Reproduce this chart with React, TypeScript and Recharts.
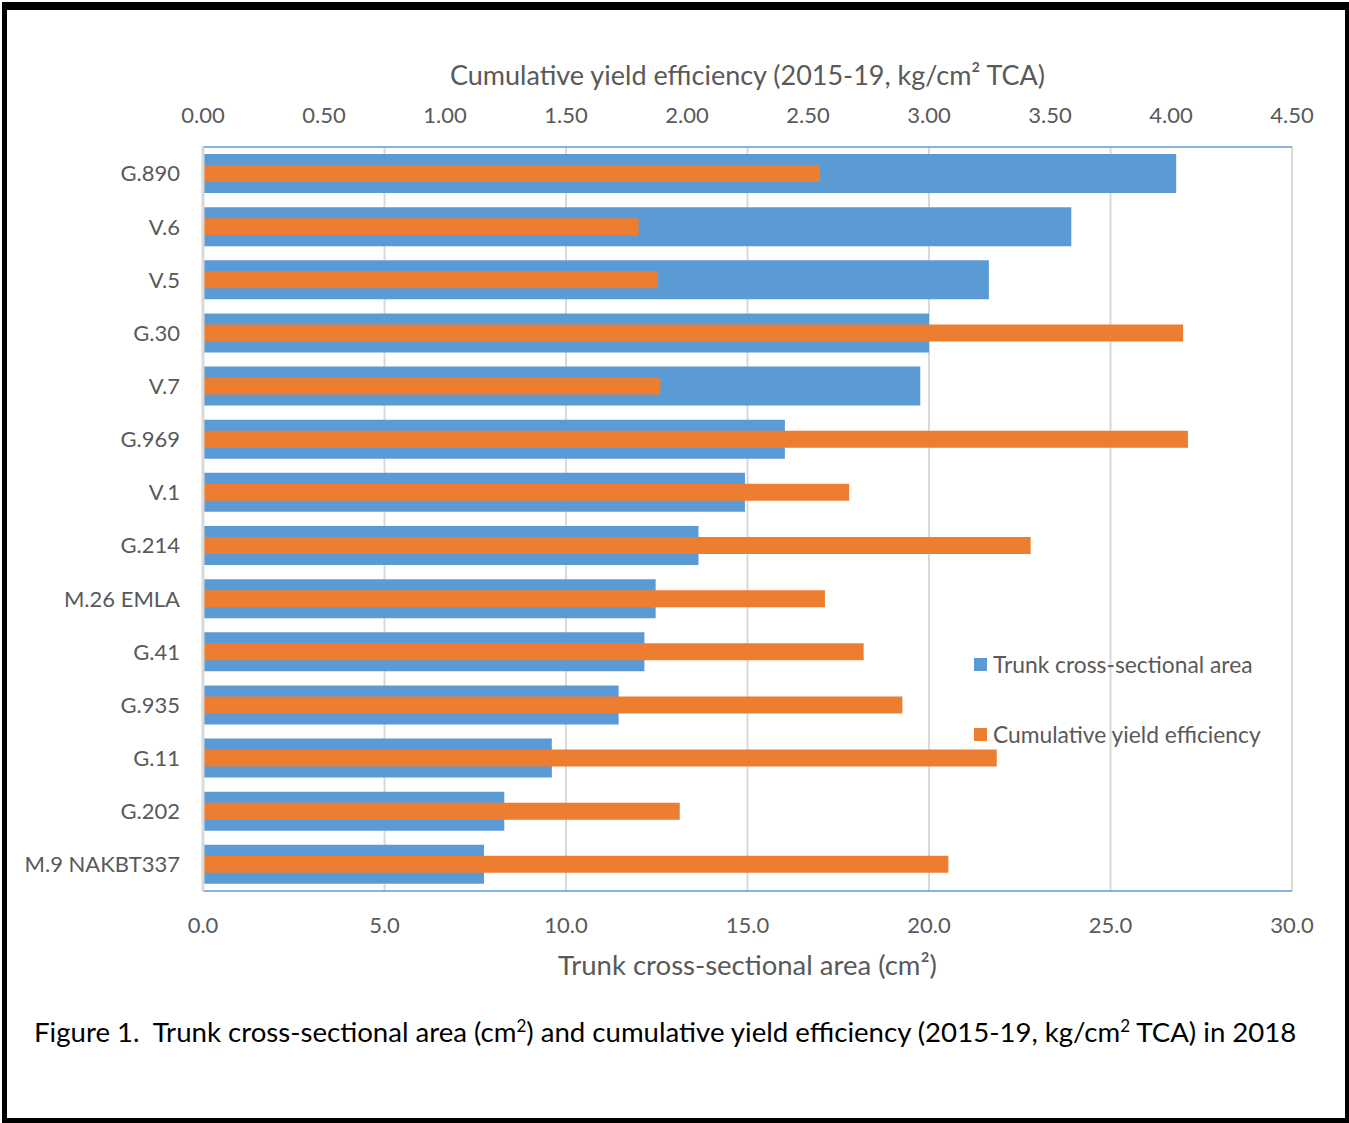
import React from 'react';
import { BarChart, Bar, XAxis, YAxis, CartesianGrid, Legend } from 'recharts';

const categories = ['G.890', 'V.6', 'V.5', 'G.30', 'V.7', 'G.969', 'V.1', 'G.214', 'M.26 EMLA', 'G.41', 'G.935', 'G.11', 'G.202', 'M.9 NAKBT337'];
const trunkArea = [26.81, 23.92, 21.65, 20.0, 19.76, 16.03, 14.93, 13.65, 12.47, 12.16, 11.45, 9.61, 8.3, 7.74];
const yieldEfficiency = [2.55, 1.8, 1.88, 4.05, 1.89, 4.07, 2.67, 3.42, 2.57, 2.73, 2.89, 3.28, 1.97, 3.08];
const topTicks = [0, 0.5, 1, 1.5, 2, 2.5, 3, 3.5, 4, 4.5];
const bottomTicks = [0, 5, 10, 15, 20, 25, 30];

const seriesNames = ['Trunk cross-sectional area', 'Cumulative yield efficiency'];
const BLUE = '#5B9BD5';
const ORANGE = '#ED7D31';
const GRAY_TEXT = '#595959';
const FONT = 'Lato, "Open Sans", sans-serif';

const data = categories.map((name, i) => ({ name, tca: trunkArea[i], cye: yieldEfficiency[i] }));

const legendItems = [
  { name: seriesNames[0], color: BLUE },
  { name: seriesNames[1], color: ORANGE },
];

const LegendContent = () => (
  <div style={{ fontFamily: FONT, fontSize: 22.8, color: GRAY_TEXT }}>
    {legendItems.map((it, i) => (
      <div key={it.name} style={{ display: 'flex', alignItems: 'center', height: 30, marginBottom: i === 0 ? 40 : 0 }}>
        <span style={{ display: 'inline-block', width: 13, height: 13, background: it.color, marginRight: 6 }} />
        <span>{it.name}</span>
      </div>
    ))}
  </div>
);

export default function App() {
  const tickStyle = { fontFamily: FONT, fontSize: 22, fill: GRAY_TEXT };
  return (
    <div style={{ position: 'absolute', left: 0, top: 0, width: 1349, height: 1123, background: '#fff' }}>
      <div
        style={{
          position: 'absolute',
          left: 2,
          top: 2,
          width: 1347,
          height: 1121,
          boxSizing: 'border-box',
          borderLeft: '5px solid #000',
          borderTop: '8px solid #000',
          borderRight: '4px solid #000',
          borderBottom: '5px solid #000',
        }}
      />
      <div style={{ position: 'absolute', left: 0, top: 0 }}>
        <BarChart
          width={1349}
          height={1123}
          data={data}
          layout="vertical"
          margin={{ top: 87, right: 57, bottom: 172, left: 23 }}
        >
          <CartesianGrid horizontal={false} vertical stroke="#D9D9D9" strokeWidth={2} xAxisId="bottom" yAxisId="cat1" />
          <XAxis
            xAxisId="top"
            orientation="top"
            type="number"
            domain={[0, 4.5]}
            ticks={topTicks}
            interval={0}
            height={60}
            tickLine={false}
            tickMargin={18}
            tickFormatter={(v: number) => v.toFixed(2)}
            tick={tickStyle}
            axisLine={{ stroke: BLUE, strokeWidth: 1.5 }}
            label={{
              value: 'Cumulative yield efficiency (2015-19, kg/cm² TCA)',
              position: 'top',
              offset: 2,
              style: { fontFamily: FONT, fontSize: 27, fill: GRAY_TEXT },
            }}
          />
          <XAxis
            xAxisId="bottom"
            orientation="bottom"
            type="number"
            domain={[0, 30]}
            ticks={bottomTicks}
            interval={0}
            height={60}
            tickLine={false}
            tickMargin={20}
            tickFormatter={(v: number) => v.toFixed(1)}
            tick={tickStyle}
            axisLine={{ stroke: BLUE, strokeWidth: 1.5 }}
            label={{
              value: 'Trunk cross-sectional area (cm²)',
              position: 'bottom',
              offset: 4,
              style: { fontFamily: FONT, fontSize: 27.5, fill: GRAY_TEXT },
            }}
          />
          <YAxis
            yAxisId="cat1"
            dataKey="name"
            type="category"
            width={180}
            interval={0}
            tickLine={false}
            tickMargin={17}
            tick={tickStyle}
            axisLine={{ stroke: '#D9D9D9', strokeWidth: 3 }}
          />
          <YAxis
            yAxisId="cat2"
            dataKey="name"
            type="category"
            orientation="right"
            width={0}
            tick={false}
            tickLine={false}
            axisLine={{ stroke: BLUE, strokeWidth: 1.5 }}
          />
          <Legend
            layout="horizontal"
            align="center"
            verticalAlign="middle"
            content={<LegendContent />}
            wrapperStyle={{ position: 'absolute', left: 974, top: 649, width: 320 }}
          />
          <Bar name={seriesNames[0]} dataKey="tca" xAxisId="bottom" yAxisId="cat1" fill={BLUE} barSize={39} isAnimationActive={false} />
          <Bar name={seriesNames[1]} dataKey="cye" xAxisId="top" yAxisId="cat2" fill={ORANGE} barSize={17} isAnimationActive={false} />
        </BarChart>
      </div>
      <div
        style={{
          position: 'absolute',
          left: 34,
          top: 1018,
          fontFamily: FONT,
          fontSize: 27.6,
          lineHeight: 1,
          color: '#000',
          whiteSpace: 'pre',
        }}
      >
        {'Figure 1.  Trunk cross-sectional area (cm'}
        <sup style={{ fontSize: 17, lineHeight: 0 }}>2</sup>
        {') and cumulative yield efficiency (2015-19, kg/cm'}
        <sup style={{ fontSize: 17, lineHeight: 0 }}>2</sup>
        {' TCA) in 2018'}
      </div>
    </div>
  );
}
